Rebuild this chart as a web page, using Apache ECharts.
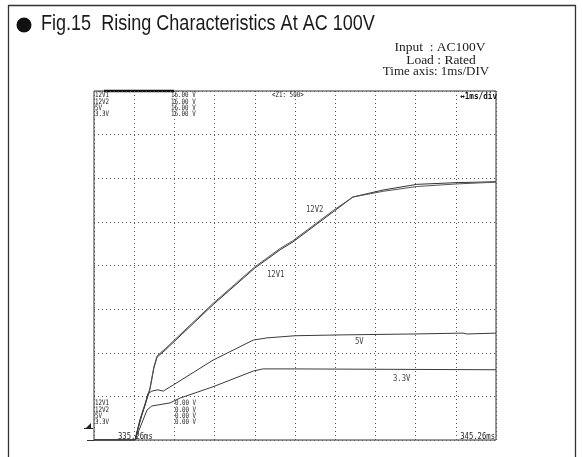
<!DOCTYPE html>
<html><head><meta charset="utf-8">
<script src="https://cdn.jsdelivr.net/npm/echarts@6/dist/echarts.min.js"></script>
<style>html,body{margin:0;padding:0;background:#fff}#c{width:583px;height:457px}</style>
</head><body><div id="c"></div>
<script>
// ---- data (time in ms from left edge, value in divisions) ----
const channels = ['12V1', '12V2', '5V', '3.3V'];
const scaleLabels = ['16.00 V', '16.00 V', '16.00 V', '16.00 V'];
const offsetLabels = ['0.00 V', '0.00 V', '0.00 V', '0.00 V'];
const timeLabels = ['335.26ms', '345.26ms'];
const zoomLabel = '<Z1: 500>';
const divLabel = '\u21941ms/div';

const t12 = [0, 1.02, 1.19, 1.39, 1.49, 1.57, 1.77, 2.09, 2.96, 4.00, 4.63, 4.95, 5.95, 6.44, 7.19, 8.03, 9.03, 10.0];
const v12v1 = [0, 0, 0.57, 1.15, 1.65, 1.90, 2.06, 2.34, 3.10, 3.94, 4.36, 4.54, 5.23, 5.57, 5.73, 5.86, 5.90, 5.92];
const v12v2 = [0, 0, 0.60, 1.18, 1.68, 1.93, 2.09, 2.37, 3.13, 3.97, 4.39, 4.57, 5.26, 5.57, 5.70, 5.81, 5.87, 5.91];

const t5 = [0, 1.02, 1.14, 1.27, 1.34, 1.44, 1.59, 1.72, 1.97, 2.96, 3.96, 4.30, 5.0, 6.19, 7.94, 9.18, 9.28, 10.0];
const v5 = [0, 0, 0.46, 0.80, 1.06, 1.12, 1.15, 1.12, 1.26, 1.83, 2.29, 2.34, 2.39, 2.41, 2.43, 2.45, 2.43, 2.45];

const t33 = [0, 1.02, 1.17, 1.32, 1.44, 1.57, 1.89, 2.14, 2.96, 3.96, 4.20, 4.88, 10.0];
const v33 = [0, 0, 0.34, 0.69, 0.78, 0.80, 0.85, 0.96, 1.22, 1.58, 1.63, 1.63, 1.61];

const xTicks = [0, 10, 1];   // min, max, interval (ms)
const yTicks = [0, 8, 1];    // min, max, interval (div)

function pairs(t, v) { return t.map((x, i) => [x, v[i]]); }

const chart = echarts.init(document.getElementById('c'), null, {renderer: 'canvas'});
const G = {left: 94, top: 91, right: 87, bottom: 17};
const mono = '"DejaVu Sans Mono", "Liberation Mono", monospace';
const txtCol = '#222';

function stxt(x, y, s, size, opts) {
  opts = opts || {};
  return {
    type: 'text', x: x, y: y, scaleX: opts.sx || 0.78, silent: true,
    style: {text: s, x: 0, y: 0, font: (opts.bold ? 'bold ' : '') + size + 'px ' + mono,
      fill: opts.fill || txtCol, align: opts.align || 'left', verticalAlign: 'top'}
  };
}
function stack(x, y0, lines, step, size) {
  return lines.map((s, i) => stxt(x, y0 + i * step, s, size));
}

const lineStyleBase = {width: 1, color: '#3a3a3a'};

chart.setOption({
  animation: false,
  backgroundColor: '#fff',
  grid: {left: G.left, top: G.top, right: G.right, bottom: G.bottom, show: true, borderColor: '#333', borderWidth: 1},
  xAxis: {
    type: 'value', min: xTicks[0], max: xTicks[1], interval: xTicks[2],
    axisLine: {show: false}, axisTick: {show: false}, axisLabel: {show: false},
    splitLine: {show: true, lineStyle: {color: '#555', width: 1, type: [1, 3]}}
  },
  yAxis: {
    type: 'value', min: yTicks[0], max: yTicks[1], interval: yTicks[2],
    axisLine: {show: false}, axisTick: {show: false}, axisLabel: {show: false},
    splitLine: {show: true, lineStyle: {color: '#555', width: 1, type: [1, 3]}}
  },
  series: [
    {name: channels[0], type: 'line', data: pairs(t12, v12v1), showSymbol: false, lineStyle: {width: 1, color: '#333'}, z: 3},
    {name: channels[1], type: 'line', data: pairs(t12, v12v2), showSymbol: false, lineStyle: {width: 1, color: '#555'}, z: 3},
    {name: channels[2], type: 'line', data: pairs(t5, v5), showSymbol: false, lineStyle: lineStyleBase, z: 3},
    {name: channels[3], type: 'line', data: pairs(t33, v33), showSymbol: false, lineStyle: lineStyleBase, z: 3}
  ],
  graphic: [
    // outer frame
    {type: 'rect', shape: {x: 8.5, y: 5.5, width: 567, height: 470}, style: {fill: 'none', stroke: '#333', lineWidth: 1.3}, silent: true},
    // bullet + title
    {type: 'circle', shape: {cx: 24, cy: 25, r: 7.5}, style: {fill: '#111'}, silent: true},
    {type: 'text', x: 41, y: 24, scaleX: 0.82, silent: true,
      style: {text: 'Fig.15  Rising Characteristics At AC 100V', x: 0, y: 0, verticalAlign: 'middle',
        font: '22px "Liberation Sans", Arial, sans-serif', fill: '#1a1a1a'}},
    // conditions
    {type: 'text', x: 440, y: 40, silent: true, style: {text: 'Input  : AC100V', font: '13.5px "Liberation Serif", serif', fill: '#222', align: 'center'}},
    {type: 'text', x: 441, y: 53, silent: true, style: {text: 'Load : Rated', font: '13.5px "Liberation Serif", serif', fill: '#222', align: 'center'}},
    {type: 'text', x: 436, y: 65, silent: true, style: {text: 'Time axis: 1ms/DIV', font: '13px "Liberation Serif", serif', fill: '#222', align: 'center'}},
    // thick trigger bar on top border
    {type: 'line', shape: {x1: 104, y1: 91, x2: 174, y2: 91}, style: {stroke: '#111', lineWidth: 2.5}, silent: true},
    // bottom border extension
    {type: 'line', shape: {x1: 87, y1: 440.5, x2: 94, y2: 440.5}, style: {stroke: '#333', lineWidth: 1}, silent: true},
    // trigger marker
    {type: 'polygon', shape: {points: [[86, 428], [91, 428], [91, 423]]}, style: {fill: '#222'}, silent: true},
    {type: 'line', shape: {x1: 84, y1: 428.5, x2: 93, y2: 428.5}, style: {stroke: '#222', lineWidth: 1}, silent: true},
    // scope texts
    ...stack(95, 91.5, channels, 6.3, 7.5),
    ...stack(171, 91.5, scaleLabels, 6.3, 7.5),
    ...stack(95, 399.5, channels, 6.1, 7.5),
    ...stack(175, 399.5, offsetLabels, 6.1, 7.5),
    stxt(272, 91.5, zoomLabel, 7.5),
    stxt(497, 92, divLabel, 9, {bold: true, fill: '#111', align: 'right', sx: 0.85}),
    stxt(118, 432, timeLabels[0], 8.5, {sx: 0.85}),
    stxt(495, 432, timeLabels[1], 8.5, {sx: 0.85, align: 'right'}),
    // curve labels
    stxt(306, 205, channels[1], 8.5, {fill: '#444', sx: 0.85}),
    stxt(267, 270, channels[0], 8.5, {fill: '#444', sx: 0.85}),
    stxt(355, 337, channels[2], 8.5, {fill: '#444', sx: 0.85}),
    stxt(393, 374, channels[3], 8.5, {fill: '#444', sx: 0.85})
  ]
});
</script>
</body></html>
